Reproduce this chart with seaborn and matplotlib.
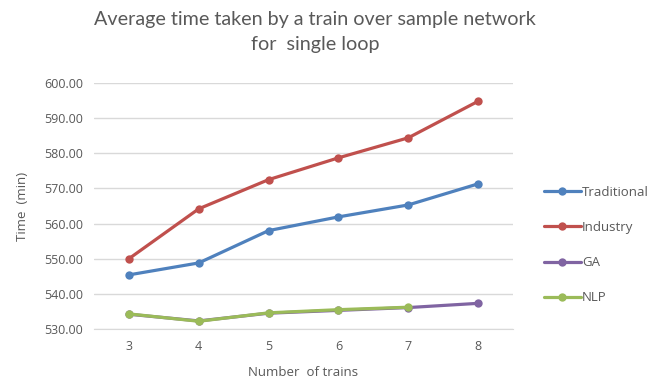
import numpy as np
import pandas as pd
import seaborn as sns
import matplotlib.pyplot as plt

sns.set_style("white")
plt.rcParams['font.family'] = ['Open Sans', 'DejaVu Sans']

trains = [3, 4, 5, 6, 7, 8]
traditional = [545.4, 548.8, 558.0, 561.9, 565.3, 571.3]
industry = [550.0, 564.2, 572.5, 578.7, 584.4, 594.8]
ga = [534.2, 532.3, 534.5, 535.3, 536.1, 537.3]
nlp = [534.3, 532.2, 534.6, 535.5, 536.2, np.nan]
series = ["Traditional", "Industry", "GA", "NLP"]
colors = ["#4F81BD", "#C0504D", "#8064A2", "#9BBB59"]

rows = []
for name, vals in zip(series, [traditional, industry, ga, nlp]):
    for t, v in zip(trains, vals):
        if not np.isnan(v):
            rows.append({"trains": t, "time": v, "series": name})
df = pd.DataFrame(rows)

fig = plt.figure(figsize=(6.51, 3.89), dpi=100)
ax = fig.add_axes([94/651, 1-329/389, (513-94)/651, (329-83)/389])
sns.lineplot(data=df, x="trains", y="time", hue="series", hue_order=series,
             palette=colors, marker="o", markersize=6, markeredgewidth=0,
             linewidth=2.3, ax=ax, legend=True)

ax.set_xlim(2.5, 8.5)
ax.set_ylim(530, 600)
ax.set_xticks(trains)
ax.set_yticks(np.arange(530, 601, 10))
ax.set_yticklabels([f"{v:.2f}" for v in np.arange(530, 601, 10)])
ax.grid(axis="y", color="#D9D9D9", linewidth=1)
for s in ["top", "right", "left"]:
    ax.spines[s].set_visible(False)
ax.spines["bottom"].set_color("#D9D9D9")
ax.tick_params(axis="both", length=0, colors="#595959", labelsize=9, pad=8)
ax.set_xlabel("Number  of trains", color="#595959", fontsize=9.5, labelpad=9)
ax.set_ylabel("Time  (min)", color="#595959", fontsize=9.5, labelpad=11)

handles, labels = ax.get_legend_handles_labels()
ax.legend_.remove()
fig.legend(handles, labels, loc="upper left", bbox_to_anchor=(532/651, 1-174/389),
           frameon=False, fontsize=9.5, labelspacing=1.68, handlelength=2.8,
           handletextpad=0.1, labelcolor="#595959")

fig.text(315/651, 1-32/389,
         "Average time taken by a train over sample network\nfor  single loop",
         ha="center", va="center", fontsize=14.2, color="#595959",
         family=["Lato", "DejaVu Sans"], linespacing=1.55)

fig.savefig("out.png", dpi=100)
